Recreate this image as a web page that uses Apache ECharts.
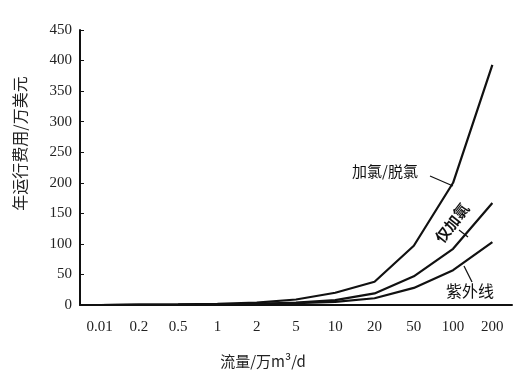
<!DOCTYPE html>
<html>
<head>
<meta charset="utf-8">
<script src="https://cdn.jsdelivr.net/npm/echarts@6/dist/echarts.min.js"></script>
<style>
  html, body { margin: 0; padding: 0; background: #fff; }
  #chart { width: 530px; height: 378px; }
</style>
</head>
<body>
<div id="chart"></div>
<script>
// 流量 (万m3/d)
var flowLabels = ['0.01', '0.2', '0.5', '1', '2', '5', '10', '20', '50', '100', '200']
// 年运行费用 (万美元)
var chlorDechlor = [0, 0.5, 1, 2, 4, 9, 20, 38, 97, 200, 393]
var chlorOnly = [0, 0.3, 0.6, 1, 2, 4, 8, 19, 47, 92, 167]
var uvOnly = [0, 0.2, 0.4, 0.8, 1.5, 3, 5, 11, 28, 57, 103]

var serif = '"Liberation Serif", "DejaVu Serif", serif'
var cjk = '"Noto Sans CJK SC", sans-serif'

var chart = echarts.init(document.getElementById('chart'))

function lineSeries(name, data) {
  return {
    name: name,
    type: 'line',
    data: data,
    symbol: 'none',
    smooth: false,
    lineStyle: { color: '#111', width: 2.2 },
    itemStyle: { color: '#111' },
    z: 3
  }
}

chart.setOption({
  animation: false,
  backgroundColor: '#fff',
  grid: { left: 80, right: 18, top: 30, bottom: 73 },
  xAxis: {
    type: 'category',
    data: flowLabels,
    boundaryGap: true,
    name: '流量/万m³/d',
    nameLocation: 'middle',
    nameGap: 49,
    nameTextStyle: { fontFamily: cjk, fontSize: 15, color: '#222', padding: [0, 66, 0, 0] },
    axisLine: { lineStyle: { color: '#111', width: 2 } },
    axisTick: { inside: true, length: 4, lineStyle: { color: '#111' } },
    axisLabel: { fontFamily: serif, fontSize: 15, color: '#222', margin: 15, interval: 0 },
    splitLine: { show: false }
  },
  yAxis: {
    type: 'value',
    min: 0,
    max: 450,
    interval: 50,
    name: '年运行费用/万美元',
    nameLocation: 'middle',
    nameRotate: 90,
    nameGap: 52,
    nameTextStyle: { fontFamily: cjk, fontSize: 16, color: '#222', padding: [0, 0, 0, 48] },
    axisLine: { show: true, lineStyle: { color: '#111', width: 2 } },
    axisTick: { show: true, inside: true, length: 4, lineStyle: { color: '#111' } },
    axisLabel: { fontFamily: serif, fontSize: 15, color: '#222', margin: 8 },
    splitLine: { show: false }
  },
  series: [
    lineSeries('加氯/脱氯', chlorDechlor),
    lineSeries('仅加氯', chlorOnly),
    lineSeries('紫外线', uvOnly)
  ],
  graphic: [
    // curve labels with leader lines
    { type: 'text', left: 352, top: 164, style: { text: '加氯/脱氯', font: '15px ' + cjk, fill: '#111' } },
    { type: 'line', shape: { x1: 430, y1: 176, x2: 453, y2: 186 }, style: { stroke: '#111', lineWidth: 1.2 } },
    { type: 'text', x: 452, y: 223, rotation: Math.PI * 52 / 180,
      style: { text: '仅加氯', font: 'bold 15px ' + cjk, fill: '#111', align: 'center', verticalAlign: 'middle' } },
    { type: 'line', shape: { x1: 459, y1: 230, x2: 468, y2: 237 }, style: { stroke: '#111', lineWidth: 1.2 } },
    { type: 'text', left: 446, top: 283, style: { text: '紫外线', font: '16px ' + cjk, fill: '#111' } },
    { type: 'line', shape: { x1: 464, y1: 266, x2: 472, y2: 282 }, style: { stroke: '#111', lineWidth: 1.2 } }
  ]
})
</script>
</body>
</html>
